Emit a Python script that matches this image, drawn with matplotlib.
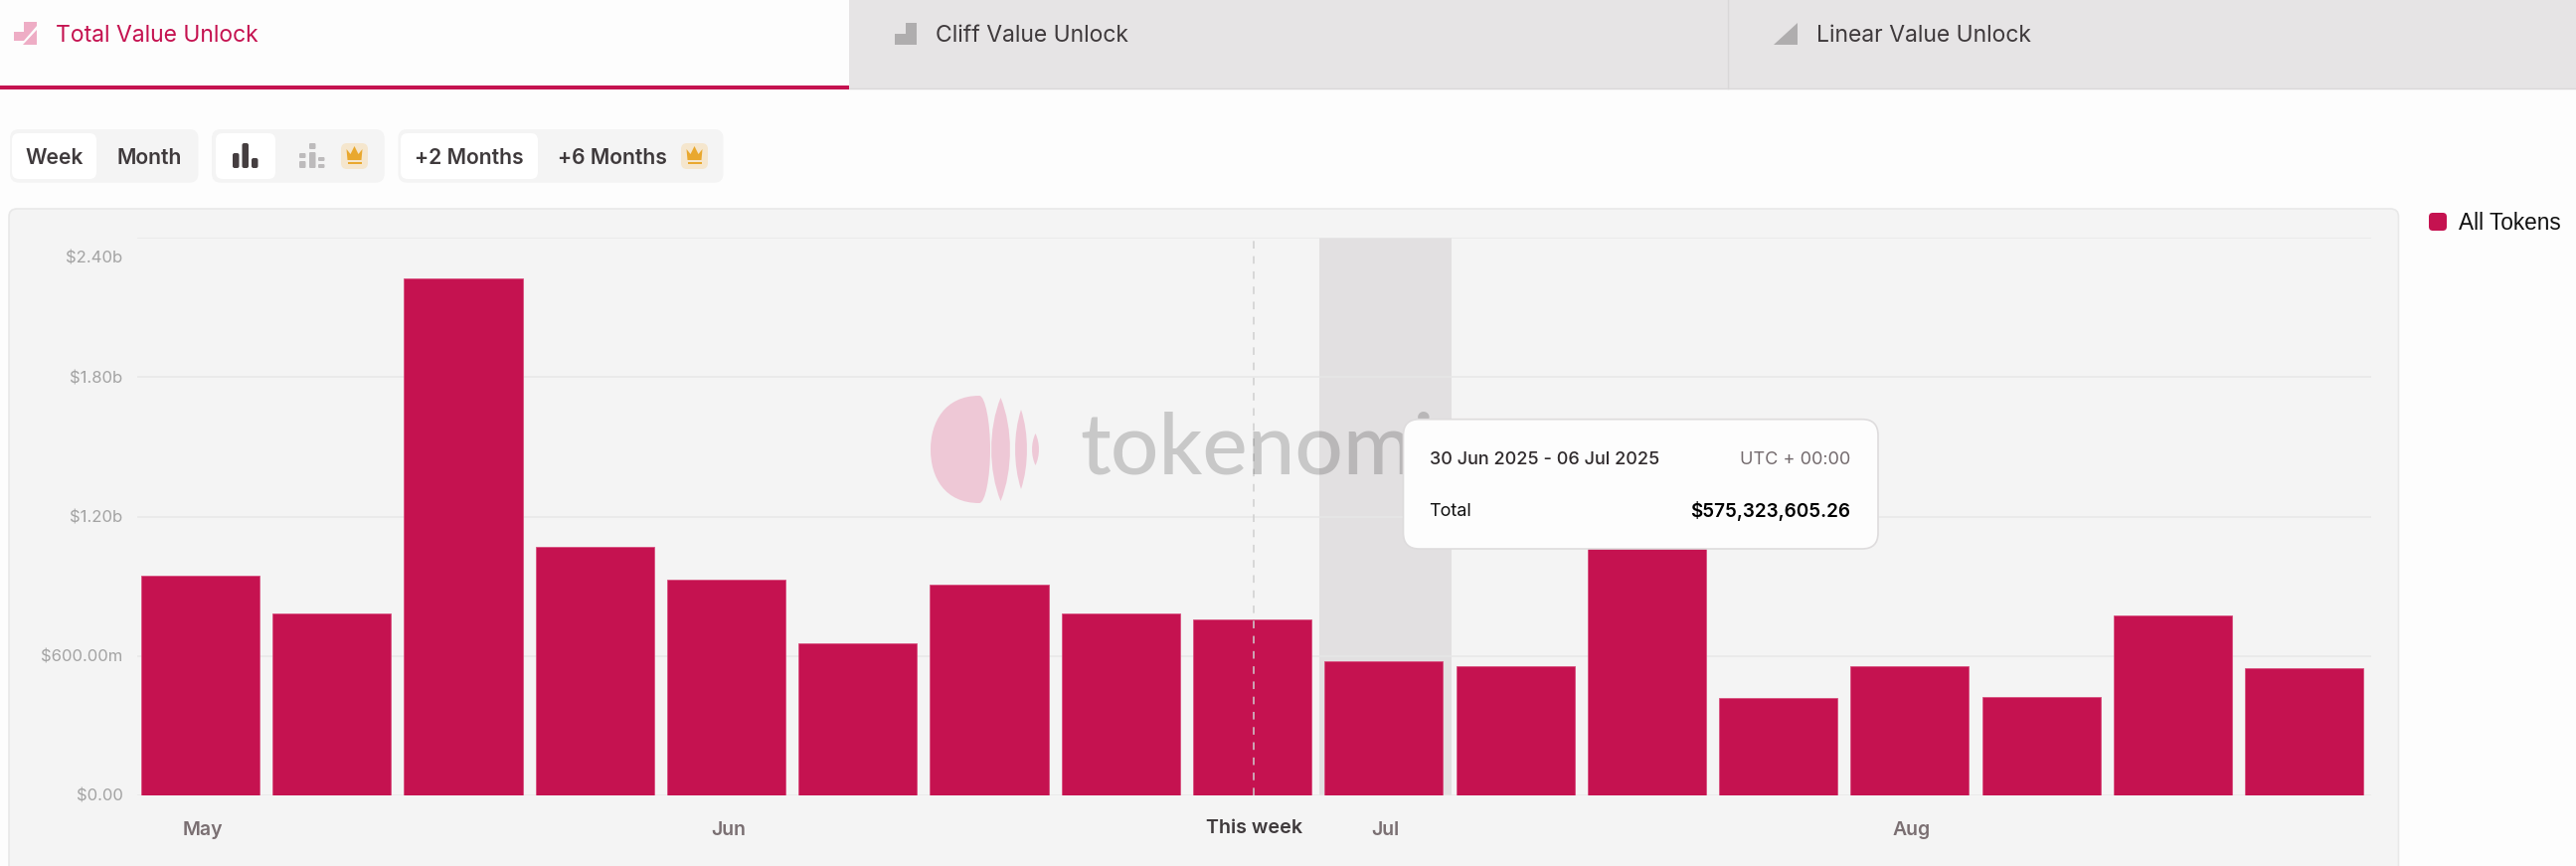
"""Weekly total value unlock, all tokens (tokenomist style dashboard view)."""

import matplotlib
matplotlib.use("Agg")
import matplotlib.pyplot as plt
from matplotlib.patches import FancyBboxPatch, PathPatch, Polygon, Rectangle
from matplotlib.path import Path

plt.rcParams["font.family"] = ["Inter", "DejaVu Sans"]

CRIMSON = "#C51250"
PAGE = "#FDFDFD"
PANEL = "#F4F4F4"
TAB_GRAY = "#E6E4E5"
DARK = "#3F3A3C"
W, H = 2591, 871

# weekly unlock totals in USD, the 12th bar's top is hidden by the tooltip
weeks = list(range(17))
values = [945e6, 782e6, 2226e6, 1069e6, 928e6, 654e6, 906e6, 781e6, 756e6,
          575323605.26, 555e6, 1100e6, 416e6, 556e6, 423e6, 774e6, 545e6]
y_ticks = [0, 600e6, 1200e6, 1800e6, 2400e6]
y_labels = ["$0.00", "$600.00m", "$1.20b", "$1.80b", "$2.40b"]
month_weeks = [0, 4, 9, 13]
month_labels = ["May", "Jun", "Jul", "Aug"]
this_week = 8
hover_week = 9
LABEL_SHIFT = 0.015  # the x labels and marker sit a hair right of the bar centres


def box(ax, x0, y0, x1, y1, r, fc, ec="none", lw=1, zorder=1):
    p = FancyBboxPatch((x0 + r, y0 + r), x1 - x0 - 2 * r, y1 - y0 - 2 * r,
                       boxstyle=f"round,pad={r},rounding_size={r}",
                       fc=fc, ec=ec, lw=lw, zorder=zorder)
    ax.add_patch(p)
    return p


def lens(ax, x0, x1, y0, y1, color):
    xm = (x0 + x1) / 2
    k = (x1 - x0) * 0.66
    verts = [(xm, y0), (xm - k, y0 + (y1 - y0) * .3), (xm - k, y0 + (y1 - y0) * .7), (xm, y1),
             (xm + k, y0 + (y1 - y0) * .7), (xm + k, y0 + (y1 - y0) * .3), (xm, y0)]
    codes = [Path.MOVETO] + [Path.CURVE4] * 6
    ax.add_patch(PathPatch(Path(verts, codes), fc=color, ec="none", zorder=2))


def crown(ax, x, y, color="#E9A82E"):
    # x, y = centre of the badge
    ax.add_patch(Polygon([(x - 8, y - 7), (x - 4, y - 2), (x, y - 10), (x + 4, y - 2),
                          (x + 8, y - 7), (x + 7, y + 4), (x - 7, y + 4)],
                         fc=color, ec="none", zorder=4))
    ax.add_patch(Rectangle((x - 7, y + 6), 14, 1.8, fc=color, ec="none", zorder=4))


fig = plt.figure(figsize=(W / 100, H / 100), dpi=100, facecolor=PAGE)


def full_axes(zorder):
    ax = fig.add_axes([0, 0, 1, 1], zorder=zorder)
    ax.set_xlim(0, W)
    ax.set_ylim(H, 0)
    ax.axis("off")
    return ax


bg = full_axes(0)
fg = full_axes(2)

# tabs
bg.add_patch(Rectangle((854, 0), W - 854, 89, fc=TAB_GRAY, ec="none"))
bg.plot([1738, 1738], [0, 89], color="#D9D7D8", lw=1)
bg.plot([854, W], [89, 89], color="#DAD8D9", lw=1)
bg.add_patch(Rectangle((0, 86.5), 854, 3.5, fc=CRIMSON, ec="none", zorder=3))
bg.text(56, 36, "Total Value Unlock", color=CRIMSON, fontsize=16.5, va="center")
bg.text(941, 36, "Cliff Value Unlock", color=DARK, fontsize=16.5, va="center")
bg.text(1827, 36, "Linear Value Unlock", color=DARK, fontsize=16.5, va="center")
bg.add_patch(Polygon([(24, 22), (37, 22), (37, 26), (24, 41), (14, 41), (14, 32), (24, 32)],
                     fc="#EEADC5", ec="none"))
bg.add_patch(Polygon([(37, 30), (37, 45), (23, 45)], fc="#EEADC5", ec="none"))
bg.add_patch(Polygon([(911, 23), (922, 23), (922, 45), (900, 45), (900, 34), (911, 34)],
                     fc="#AFADAE", ec="none"))
bg.add_patch(Polygon([(1808, 23), (1808, 45), (1784, 45)], fc="#AFADAE", ec="none"))

# toolbar
for x0, x1 in [(10, 199.5), (213, 386.7), (400.5, 727.5)]:
    box(bg, x0, 130, x1, 183.7, 9, PANEL)
for x0, x1 in [(12, 97), (217, 277), (403, 541)]:
    box(bg, x0, 134, x1, 180, 7, "#FFFFFF", zorder=2)
for x, s in [(55, "Week"), (150.5, "Month"), (472, "+2 Months"), (616, "+6 Months")]:
    bg.text(x, 159, s, color=DARK, fontsize=15.2, fontweight="semibold",
            ha="center", va="center", zorder=3)
for x0, top in [(234, 154), (243.5, 144), (253, 159)]:
    box(bg, x0, top, x0 + 6.5, 169, 2, "#453E40", zorder=3)
for x0, y0, y1 in [(301, 154, 159), (301, 162, 169), (311, 144, 150), (311, 153, 169),
                   (320, 158, 162), (320, 165, 169)]:
    box(bg, x0, y0, x0 + 6.5, y1, 1.2, "#BDBBBC", zorder=3)
for x0 in (343, 685):
    box(bg, x0, 144, x0 + 27, 170, 6, "#F5E6CD", zorder=3)
    crown(bg, x0 + 13.5, 157)

# chart panel
box(bg, 9, 210, 2412.5, 920, 8, PANEL, ec="#E8E8E8", lw=1.2)

# legend
box(bg, 2443, 214, 2461, 232, 4, CRIMSON)
bg.text(2473, 224, "All Tokens", color="#111111", fontsize=16.3,
        family=["Liberation Sans", "DejaVu Sans"], va="center")

# the chart itself
ax = fig.add_axes([138 / W, 1 - 799.5 / H, (2385 - 138) / W, 560 / H], zorder=1)
ax.patch.set_visible(False)
ax.set_xlim(-0.48, 16.51)
ax.set_ylim(0, 2.4e9)
for s in ax.spines.values():
    s.set_visible(False)
ax.yaxis.grid(True, color="#E7E7E7", lw=1.1, zorder=0)
ax.set_axisbelow(True)
ax.axvspan(hover_week + LABEL_SHIFT - 0.502, hover_week + LABEL_SHIFT + 0.502,
           color="#E2E0E1", lw=0, zorder=0.5)
ax.bar(weeks, values, width=0.9, color=CRIMSON, edgecolor="#D8507F", linewidth=0.6, zorder=2)
ax.axvline(this_week + LABEL_SHIFT, color="#CFCFCF", lw=1.1, ls=(0, (5, 5)), zorder=3)
ax.set_yticks(y_ticks)
# the top label is pushed down inside the chart, so it gets its own text below
ax.set_yticklabels(y_labels[:-1] + [""], color="#A3A3A3", fontsize=12)
ax.annotate(y_labels[-1], (0, y_ticks[-1]), xycoords=ax.get_yaxis_transform(),
            xytext=(-10.4, -14.4), textcoords="offset points", color="#A3A3A3", fontsize=12,
            ha="right", va="center")
ax.set_xticks([m + LABEL_SHIFT for m in month_weeks])
ax.set_xticklabels(month_labels, color="#7A6F72", fontsize=14, fontweight="semibold")
ax.tick_params(axis="both", length=0)
ax.tick_params(axis="y", pad=10.4)
ax.tick_params(axis="x", pad=19)
ax.text(this_week + LABEL_SHIFT, -0.059, "This week", transform=ax.get_xaxis_transform(),
        color=DARK, fontsize=14.2, fontweight="semibold", ha="center", va="center")

# watermark goes over the hover band, so it lives on the top layer
fg.add_patch(PathPatch(Path(
    [(985, 398), (950, 398), (936, 425), (936, 452), (936, 480), (950, 506), (985, 506),
     (991, 506), (996, 480), (996, 452), (996, 425), (991, 398), (985, 398)],
    [Path.MOVETO] + [Path.CURVE4] * 12), fc="#EEC8D6", ec="none", zorder=2))
lens(fg, 997, 1016, 400, 504, "#EEC8D6")
lens(fg, 1021, 1033, 412, 492, "#EEC8D6")
lens(fg, 1038, 1045, 436, 468, "#EEC8D6")
fg.text(1086, 476, "tokenomi", color="#000000", alpha=0.18, fontsize=61.5, fontweight="medium",
        family=["Lato", "DejaVu Sans"], va="baseline", ha="left", zorder=2)

# tooltip
box(fg, 1411.5, 421.7, 1889, 552, 16, PAGE, ec="#DEDCDD", lw=1.2, zorder=5)
fg.text(1437.5, 462.5, "30 Jun 2025 - 06 Jul 2025", color="#2F2A2C", fontsize=13,
        fontweight="medium", va="center", zorder=6)
fg.text(1861, 462.5, "UTC + 00:00", color="#736A6D", fontsize=13, ha="right", va="center", zorder=6)
fg.text(1437.5, 514, "Total", color="#111111", fontsize=13, va="center", zorder=6)
fg.text(1861, 514, "$575,323,605.26", color="#000000", fontsize=13.6, fontweight="semibold",
        ha="right", va="center", zorder=6)

fig.savefig("out.png", dpi=100, facecolor=PAGE)
